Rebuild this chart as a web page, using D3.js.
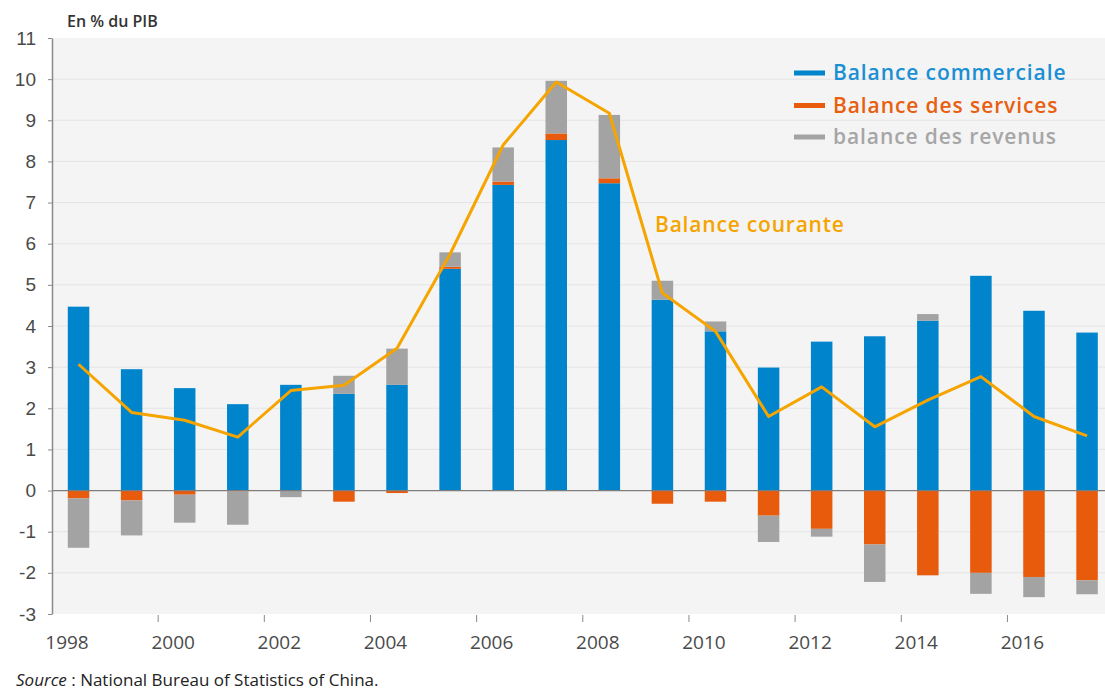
<!DOCTYPE html>
<html>
<head>
  <meta charset="UTF-8">
  <title>Balance courante Chine</title>
  <script src="https://d3js.org/d3.v7.min.js"></script>
  <style>
    body {
      margin: 0;
      background: #fff;
      font-family: "Open Sans", Arial, sans-serif;
    }
    .grid line {
      stroke: #e4e4e4;
      stroke-width: 1;
    }
    .axis text {
      fill: #4a4a4a;
      font-size: 19px;
    }
    .axis path, .axis line {
      stroke: #8a8a8a;
    }
  </style>
</head>
<body>
  <div id="chart"></div>
  <script>
    // values in % of GDP
    const years = d3.range(1998, 2018);
    const commerciale = [4.47, 2.95, 2.49, 2.10, 2.57, 2.35, 2.57, 5.39, 7.43, 8.52,
                         7.47, 4.64, 3.87, 2.99, 3.62, 3.75, 4.13, 5.22, 4.37, 3.84];
    const services = [-0.19, -0.24, -0.10, -0.02, 0.00, -0.27, -0.06, 0.05, 0.08, 0.16,
                      0.12, -0.32, -0.27, -0.61, -0.93, -1.31, -2.06, -2.00, -2.10, -2.18];
    const revenus = [-1.20, -0.85, -0.68, -0.81, -0.16, 0.44, 0.88, 0.35, 0.83, 1.28,
                     1.54, 0.46, 0.24, -0.64, -0.19, -0.91, 0.16, -0.51, -0.49, -0.34];
    const courante = [3.07, 1.90, 1.71, 1.30, 2.43, 2.56, 3.46, 5.75, 8.40, 9.93,
                      9.17, 4.80, 3.87, 1.80, 2.52, 1.55, 2.20, 2.77, 1.80, 1.33];
    const yTicks = d3.range(-3, 12);
    const xLabels = [1998, 2000, 2002, 2004, 2006, 2008, 2010, 2012, 2014, 2016];

    const series = [
      { key: "commerciale", label: "Balance commerciale", color: "#0084cc", text: "#1a8fd3" },
      { key: "services", label: "Balance des services", color: "#e85a0c", text: "#e8600f" },
      { key: "revenus", label: "balance des revenus", color: "#a3a3a3", text: "#a6a6a6" }
    ];
    const lineColor = "#f5a400";

    const width = 1105, height = 693;
    const plotLeft = 52, plotTop = 38, plotBottom = 614;
    const step = 53.08;

    const svg = d3.select("#chart").append("svg")
      .attr("width", width)
      .attr("height", height);

    const x = d3.scaleBand()
      .domain(years)
      .range([plotLeft, plotLeft + step * years.length])
      .paddingInner(0.595)
      .paddingOuter(0.2975);

    const y = d3.scaleLinear()
      .domain([-3, 11])
      .range([plotBottom, plotTop]);

    // plot background
    svg.append("rect")
      .attr("x", plotLeft).attr("y", y(11))
      .attr("width", width - plotLeft).attr("height", y(-3) - y(11))
      .attr("fill", "#f4f4f4");

    // horizontal grid
    svg.append("g").attr("class", "grid")
      .selectAll("line")
      .data(yTicks.filter(d => d !== 0 && d !== -3 && d !== 11))
      .enter().append("line")
      .attr("x1", plotLeft).attr("x2", width)
      .attr("y1", d => y(d)).attr("y2", d => y(d));

    // stacked bars
    const table = years.map((yr, i) => ({
      year: yr,
      commerciale: commerciale[i],
      services: services[i],
      revenus: revenus[i]
    }));
    const stacked = d3.stack()
      .keys(series.map(s => s.key))
      .offset(d3.stackOffsetDiverging)(table);

    svg.append("g")
      .selectAll("g")
      .data(stacked)
      .enter().append("g")
      .attr("fill", (d, i) => series[i].color)
      .selectAll("rect")
      .data(d => d)
      .enter().append("rect")
      .attr("x", d => x(d.data.year))
      .attr("width", x.bandwidth())
      .attr("y", d => y(Math.max(d[0], d[1])))
      .attr("height", d => Math.abs(y(d[0]) - y(d[1])));

    // zero line
    svg.append("line")
      .attr("x1", plotLeft).attr("x2", width)
      .attr("y1", y(0)).attr("y2", y(0))
      .attr("stroke", "#7d7d7d")
      .attr("stroke-width", 1.3);

    // current account line
    const line = d3.line()
      .x((d, i) => x(years[i]) + x.bandwidth() / 2)
      .y(d => y(d));

    svg.append("path")
      .datum(courante)
      .attr("fill", "none")
      .attr("stroke", lineColor)
      .attr("stroke-width", 3)
      .attr("stroke-linejoin", "round")
      .attr("d", line);

    // y axis (plain hyphen for negatives, as in the original)
    const yAxis = d3.axisLeft(y)
      .tickValues(yTicks)
      .tickFormat(d => String(d))
      .tickSize(4)
      .tickPadding(12)
      .tickSizeOuter(0);

    svg.append("g")
      .attr("class", "axis")
      .attr("transform", `translate(${plotLeft},0)`)
      .call(yAxis)
      .call(g => g.select(".domain").attr("stroke", "#8a8a8a").attr("stroke-width", 1.5))
      .selectAll("text")
      .attr("dy", "0.32em");

    // x axis: ticks between odd and even years, labels near the start of even years
    const xAxisG = svg.append("g").attr("class", "axis");
    xAxisG.selectAll("line")
      .data(xLabels.slice(1))
      .enter().append("line")
      .attr("x1", d => x(d) - x.step() * x.paddingInner() / 2)
      .attr("x2", d => x(d) - x.step() * x.paddingInner() / 2)
      .attr("y1", plotBottom + 1).attr("y2", plotBottom + 8)
      .attr("stroke", "#8a8a8a");

    xAxisG.selectAll("text")
      .data(xLabels)
      .enter().append("text")
      .attr("x", d => x(d) - x.step() * x.paddingInner() / 2 + 15)
      .attr("y", 649)
      .attr("text-anchor", "middle")
      .text(d => d);

    // unit label
    svg.append("text")
      .attr("x", 67).attr("y", 27)
      .attr("font-size", 16)
      .attr("font-weight", 600)
      .attr("fill", "#333")
      .text("En % du PIB");

    // legend
    const legend = svg.append("g").attr("transform", "translate(794,0)");
    const rowY = [73, 105.5, 137];
    series.forEach((s, i) => {
      legend.append("rect")
        .attr("x", 0).attr("y", rowY[i] - 2.5)
        .attr("width", 31).attr("height", 5)
        .attr("fill", s.color);
      legend.append("text")
        .attr("x", 39).attr("y", rowY[i] + 7)
        .attr("font-size", 21)
        .attr("font-weight", 600)
        .attr("letter-spacing", 0.9)
        .attr("fill", s.text)
        .text(s.label);
    });

    svg.append("text")
      .attr("x", 655).attr("y", 232)
      .attr("font-size", 21)
      .attr("font-weight", 600)
      .attr("letter-spacing", 0.8)
      .attr("fill", lineColor)
      .text("Balance courante");

    // source
    const src = svg.append("text")
      .attr("x", 16).attr("y", 686)
      .attr("font-size", 17)
      .attr("fill", "#222");
    src.append("tspan").attr("font-style", "italic").text("Source");
    src.append("tspan").text(" : National Bureau of Statistics of China.");
  </script>
</body>
</html>
